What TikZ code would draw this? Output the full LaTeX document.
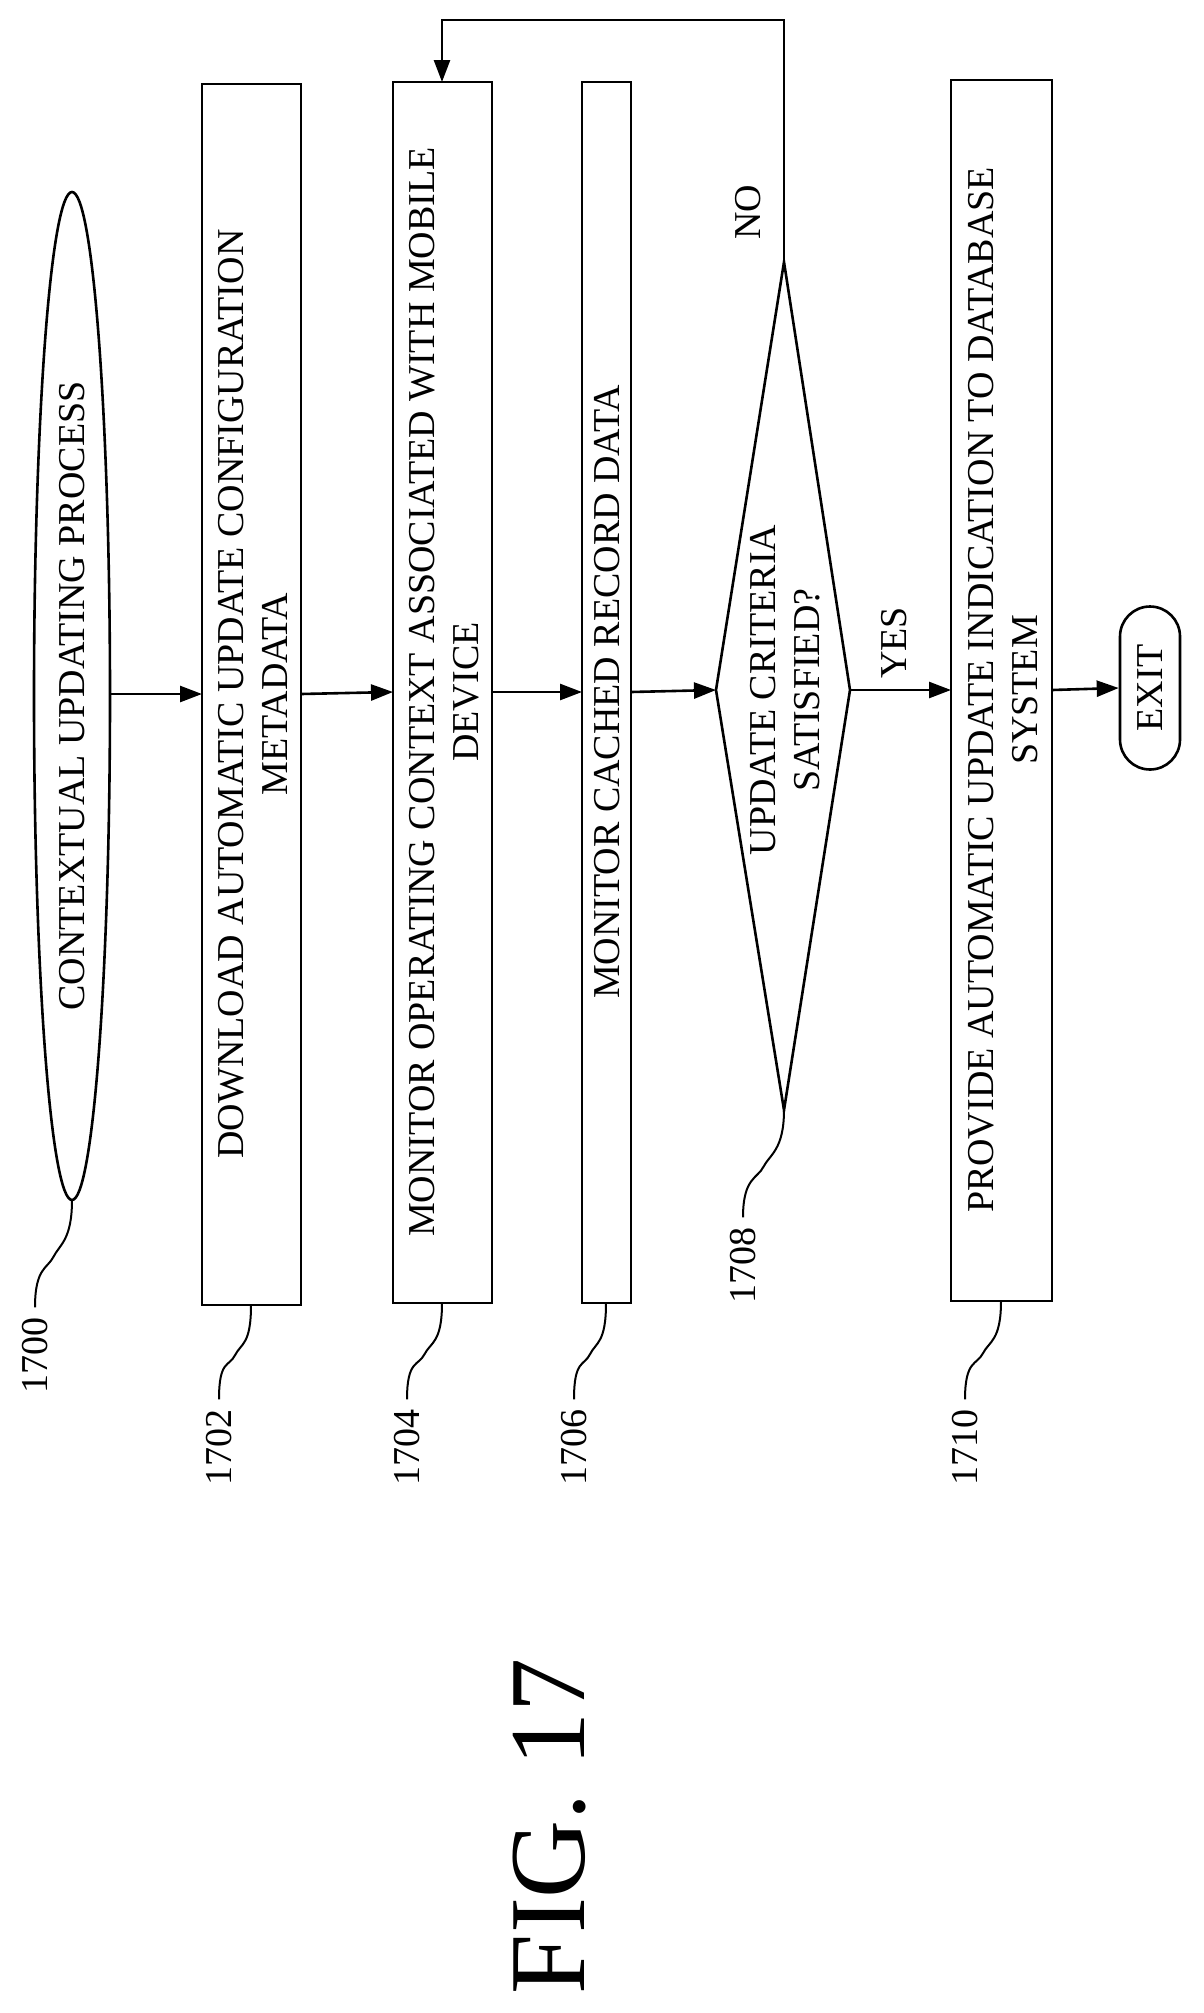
\documentclass[tikz,border=0pt]{standalone}
\usepackage{fontspec}
\setmainfont{Liberation Serif}
\usetikzlibrary{arrows.meta,shapes.geometric,calc}
\begin{document}
\begin{tikzpicture}[x=1pt,y=-1pt,
  lw/.style={line width=2.6pt},
  txt/.style={rotate=90,font=\fontsize{38}{44}\selectfont,align=center},
  lbl/.style={rotate=90,font=\fontsize{38}{44}\selectfont},
  arr/.style={lw,-{Triangle[length=22pt,width=16pt]}},
  lead/.style={line width=2pt}]
\useasboundingbox (0,0) rectangle (1203,2013);
% shapes
\draw[lw] (72,696) ellipse [x radius=38, y radius=504];
\coordinate (e-s) at (72,1200);\coordinate (e-e) at (110,694);
\node[txt] (e) at (72,696) {CONTEXTUAL UPDATING PROCESS};
\draw[lw] (202,84) rectangle (301,1305);
\coordinate (b2w) at (202,694);\coordinate (b2e) at (301,694);\coordinate (b2s) at (251,1305);
\node[txt] (t2) at (253,694) {DOWNLOAD AUTOMATIC UPDATE CONFIGURATION\\METADATA};
\draw[lw] (393,82) rectangle (492,1303);
\coordinate (b4w) at (393,692);\coordinate (b4e) at (492,692);\coordinate (b4s) at (442,1303);\coordinate (b4n) at (442,82);
\node[txt] (t4) at (444,692) {MONITOR OPERATING CONTEXT ASSOCIATED WITH MOBILE\\DEVICE};
\draw[lw] (582,82) rectangle (631,1303);
\coordinate (b6w) at (582,692);\coordinate (b6e) at (631,692);\coordinate (b6s) at (606,1303);
\node[txt] (t6) at (607,692) {MONITOR CACHED RECORD DATA};
\draw[lw] (784,262) -- (850,690) -- (784,1110) -- (716,690) -- cycle;
\coordinate (dw) at (716,690);\coordinate (de) at (850,690);\coordinate (dn) at (784,262);\coordinate (ds) at (784,1110);
\node[txt] (t8) at (785,690) {UPDATE CRITERIA\\SATISFIED?};
\draw[lw] (951,80) rectangle (1052,1301);
\coordinate (b10w) at (951,690);\coordinate (b10e) at (1052,690);\coordinate (b10s) at (1001,1301);
\node[txt] (t10) at (1003,690) {PROVIDE AUTOMATIC UPDATE INDICATION TO DATABASE\\SYSTEM};
\node[draw,lw,rounded corners=30pt,minimum width=163pt,minimum height=60pt,rotate=90,font=\fontsize{38}{44}\selectfont] (exit) at (1150,688) {EXIT};
% connectors
\draw[arr] (e-e) -- (b2w);
\draw[arr] (b2e) -- (b4w);
\draw[arr] (b4e) -- (b6w);
\draw[arr] (b6e) -- (dw);
\draw[arr] (de) -- (b10w);
\draw[arr] (b10e) -- (exit.north);
\coordinate (c1) at (784,20);\coordinate (c2) at (442,20);
\draw[arr] (dn) -- (c1) -- (c2) -- (b4n);
\node[lbl] (no) at (748,212) {NO};
\node[lbl] (yes) at (894,643) {YES};
% reference labels
\node[lbl] (l0) at (35,1355) {1700};
\node[lbl] (l2) at (219,1447) {1702};
\node[lbl] (l4) at (407,1447) {1704};
\node[lbl] (l6) at (574,1447) {1706};
\node[lbl] (l8) at (743,1265) {1708};
\node[lbl] (l10) at (965,1447) {1710};
\foreach \s/\t in {e-s/l0,b2s/l2,b4s/l4,b6s/l6,ds/l8,b10s/l10}{
  \draw[lead] (\s) .. controls +(0,40) and +(6,-12) .. ($(\s)!0.5!(\t.east)$) .. controls +(-6,12) and +(0,-40) .. ([yshift=6pt]\t.east);
}
\node[rotate=90,font=\fontsize{108}{120}\selectfont] (fig) at (550,1826) {FIG. 17};
\end{tikzpicture}
\end{document}
